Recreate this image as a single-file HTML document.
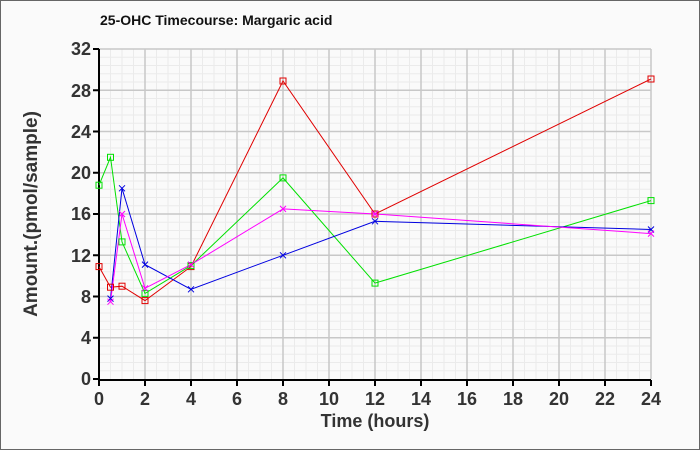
<!DOCTYPE html>
<html><head><style>body{margin:0;background:#fafafa}svg{display:block}</style></head><body>
<svg width="700" height="450" xmlns="http://www.w3.org/2000/svg" font-family="Liberation Sans, sans-serif">
<rect x="0.5" y="0.5" width="699" height="449" fill="#fafafa" stroke="#666"/>
<text x="100" y="25" font-size="14" font-weight="bold" fill="#111">25-OHC Timecourse: Margaric acid</text>
<g stroke="#ebebeb" stroke-width="1">
<path d="M110.5 49V379M133.5 49V379M156.5 49V379M179.5 49V379M202.5 49V379M225.5 49V379M248.5 49V379M271.5 49V379M294.5 49V379M317.5 49V379M340.5 49V379M363.5 49V379M386.5 49V379M409.5 49V379M432.5 49V379M455.5 49V379M478.5 49V379M501.5 49V379M524.5 49V379M547.5 49V379M570.5 49V379M593.5 49V379M616.5 49V379M639.5 49V379
M122 49V379M168 49V379M214 49V379M260 49V379M306 49V379M352 49V379M398 49V379M444 49V379M490 49V379M536 49V379M582 49V379M628 49V379"/>
<path d="M99 370.75H651M99 362.5H651M99 354.25H651M99 346H651M99 329.5H651M99 321.25H651M99 313H651M99 304.75H651M99 288.25H651M99 280H651M99 271.75H651M99 263.5H651M99 247H651M99 238.75H651M99 230.5H651M99 222.25H651M99 205.75H651M99 197.5H651M99 189.25H651M99 181H651M99 164.5H651M99 156.25H651M99 148H651M99 139.75H651M99 123.25H651M99 115H651M99 106.75H651M99 98.5H651M99 82H651M99 73.75H651M99 65.5H651M99 57.25H651"/>
</g>
<g stroke="#c8c8c8" stroke-width="1.5">
<path d="M145 49V379M191 49V379M237 49V379M283 49V379M329 49V379M375 49V379M421 49V379M467 49V379M513 49V379M559 49V379M605 49V379M651 49V379"/>
<path d="M99 337.75H651M99 296.5H651M99 255.25H651M99 214H651M99 172.75H651M99 131.5H651M99 90.25H651M99 49H651"/>
</g>
<path d="M99 49V380H651" fill="none" stroke="#000" stroke-width="2"/>
<g stroke="#000" stroke-width="2">
<path d="M93 379H99M93 337.75H99M93 296.5H99M93 255.25H99M93 214H99M93 172.75H99M93 131.5H99M93 90.25H99M93 49H99"/>
<path d="M99 380V386M145 380V386M191 380V386M237 380V386M283 380V386M329 380V386M375 380V386M421 380V386M467 380V386M513 380V386M559 380V386M605 380V386M651 380V386"/>
</g>
<g font-size="18" font-weight="bold" fill="#333" text-anchor="end">
<text x="91" y="385">0</text><text x="91" y="344">4</text><text x="91" y="303">8</text><text x="91" y="262">12</text><text x="91" y="220">16</text><text x="91" y="179">20</text><text x="91" y="138">24</text><text x="91" y="97">28</text><text x="91" y="55">32</text>
</g>
<g font-size="18" font-weight="bold" fill="#333" text-anchor="middle">
<text x="99" y="405">0</text><text x="145" y="405">2</text><text x="191" y="405">4</text><text x="237" y="405">6</text><text x="283" y="405">8</text><text x="329" y="405">10</text><text x="375" y="405">12</text><text x="421" y="405">14</text><text x="467" y="405">16</text><text x="513" y="405">18</text><text x="559" y="405">20</text><text x="605" y="405">22</text><text x="651" y="405">24</text>
<text x="375" y="427">Time (hours)</text>
<text transform="translate(37,214) rotate(-90)" font-size="19">Amount.(pmol/sample)</text>
</g>
<g fill="none" stroke-width="1">
<polyline stroke="#e00000" points="99,266.6 110.5,287.2 122,286.2 145,300.6 191,266.6 283,81 375,214 651,79"/>
<polyline stroke="#00e000" points="99,185.2 110.5,157.3 122,241.9 145,293.4 191,265.6 283,177.9 375,283.1 651,200.6"/>
<polyline stroke="#0000e0" points="110.5,298.6 122,188.3 145,264.6 191,289.3 283,255.3 375,221.3 651,229.5"/>
<polyline stroke="#ff00ff" points="110.5,301.7 122,214 145,288.3 191,264.6 283,208.9 375,214 651,233.6"/>
</g>
<g fill="none" stroke="#e00000"><rect x="96" y="263.6" width="6" height="6"/><rect x="107.5" y="284.2" width="6" height="6"/><rect x="119" y="283.2" width="6" height="6"/><rect x="142" y="297.6" width="6" height="6"/><rect x="188" y="263.6" width="6" height="6"/><rect x="280" y="78" width="6" height="6"/><rect x="372" y="211" width="6" height="6"/><rect x="648" y="76" width="6" height="6"/></g>
<g fill="none" stroke="#00e000"><rect x="96" y="182.2" width="6" height="6"/><rect x="107.5" y="154.3" width="6" height="6"/><rect x="119" y="238.9" width="6" height="6"/><rect x="142" y="290.4" width="6" height="6"/><rect x="188" y="262.6" width="6" height="6"/><rect x="280" y="174.9" width="6" height="6"/><rect x="372" y="280.1" width="6" height="6"/><rect x="648" y="197.6" width="6" height="6"/></g>
<g stroke="#0000e0"><path d="M107.5 295.6l6 6m0-6l-6 6M119 185.3l6 6m0-6l-6 6M142 261.6l6 6m0-6l-6 6M188 286.3l6 6m0-6l-6 6M280 252.3l6 6m0-6l-6 6M372 218.3l6 6m0-6l-6 6M648 226.5l6 6m0-6l-6 6"/></g>
<g stroke="#ff00ff"><path d="M107.5 298.7l6 6m0-6l-6 6M119 211l6 6m0-6l-6 6M142 285.3l6 6m0-6l-6 6M188 261.6l6 6m0-6l-6 6M280 205.9l6 6m0-6l-6 6M372 211l6 6m0-6l-6 6M648 230.6l6 6m0-6l-6 6"/></g>
</svg>
</body></html>
